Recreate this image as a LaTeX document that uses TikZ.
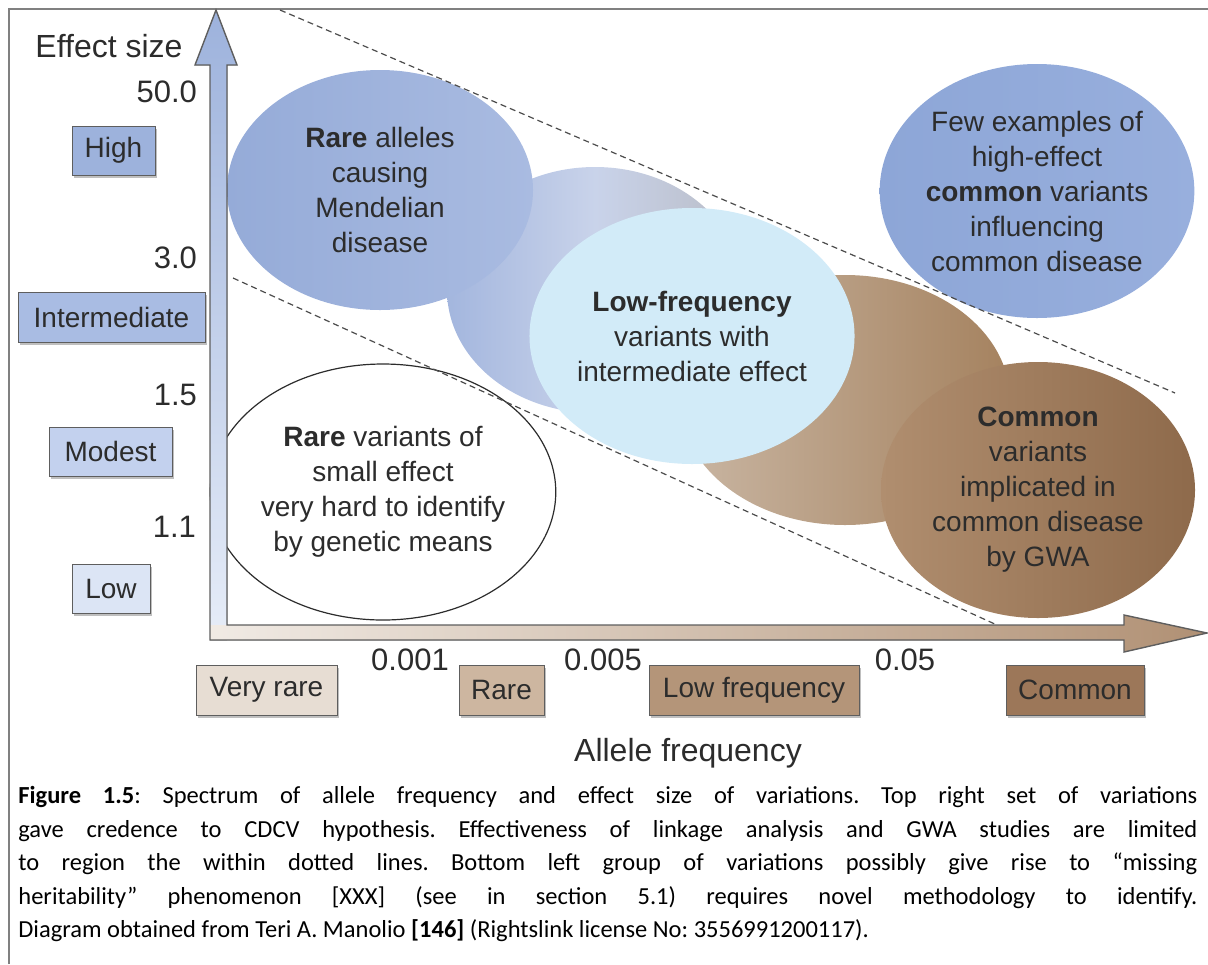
\documentclass[tikz,border=0pt]{standalone}
\usepackage{fontspec}
\setmainfont{Liberation Sans}
\newfontfamily\captionfamily{Carlito}
\usetikzlibrary{shapes.geometric,shadows}

\definecolor{textgray}{HTML}{2C2C2C}
\definecolor{framegray}{HTML}{808080}
\definecolor{edgegray}{HTML}{5E5E5E}
\definecolor{highblue}{HTML}{9DB2DC}
\definecolor{interblue}{HTML}{A9BCE3}
\definecolor{modestblue}{HTML}{C3D1EE}
\definecolor{lowblue}{HTML}{DCE5F5}
\definecolor{veryrarebrown}{HTML}{E7DDD3}
\definecolor{rarebrown}{HTML}{CDB6A0}
\definecolor{lowfreqbrown}{HTML}{B49579}
\definecolor{commonbrown}{HTML}{9C7759}
% blob colours
\definecolor{mendelleft}{HTML}{95ABD8}
\definecolor{mendelright}{HTML}{A9BBE1}
\definecolor{fadeleft}{HTML}{A3B6DE}
\definecolor{fademid}{HTML}{C9D3EA}
\definecolor{faderight}{HTML}{B9BCC6}
\definecolor{paleblue}{HTML}{D2EBF8}
\definecolor{tanleft}{HTML}{C9B6A3}
\definecolor{tanright}{HTML}{A5825F}
\definecolor{gwaleft}{HTML}{B08E6F}
\definecolor{gwaright}{HTML}{8E6A4B}
\definecolor{fewleft}{HTML}{8DA6D7}
\definecolor{fewright}{HTML}{98AFDD}

\newcommand\axisfont{\fontsize{16}{19}\selectfont}
\newcommand\tickfont{\fontsize{15.5}{18}\selectfont}
\newcommand\boxfont{\fontsize{14}{17}\selectfont}
\newcommand\bubblefont{\fontsize{14}{17.5}\selectfont}
\newcommand\capfont{\captionfamily\fontsize{12.25}{16.75}\selectfont\frenchspacing}

\tikzset{
  catbox/.style={draw=edgegray, line width=0.5pt, inner sep=0pt, text=textgray, font=\boxfont,
    drop shadow={opacity=0.5, shadow xshift=1.2pt, shadow yshift=-1.6pt}},
  bubble/.style={ellipse, inner sep=0pt, align=center, text=textgray, font=\bubblefont},
  ticklabel/.style={text=textgray, font=\tickfont},
  boundline/.style={draw=black!70, line width=0.6pt, densely dashed},
  axisline/.style={draw=edgegray, line width=0.7pt, line join=miter},
}

% label box: name, x, y, width, height, fill, text (sizes in pt, 1px = 0.5pt)
\newcommand\catbox[7]{
  \node[catbox, fill=#6, minimum width=#4, minimum height=#5] (#1) at (#2,#3) {#7};
}

\begin{document}
\begin{tikzpicture}[x=0.5pt, y=-0.5pt]
  \useasboundingbox (0,0) rectangle (1208,964);

  % frame
  \draw[framegray, line width=1pt] (9,964) -- (9,9) -- (1208,9);

  % blobs behind
  \node[bubble, minimum width=148pt, minimum height=123pt, shading=axis,
    left color=fadeleft, right color=faderight, middle color=fademid] (mendelfade) at (595,290) {};
  \node[bubble, minimum width=153pt, minimum height=120pt, shading=axis,
    left color=mendelleft, right color=mendelright] (mendel) at (380,190)
    {\textbf{Rare} alleles\\causing\\Mendelian\\disease};
  \node[bubble, minimum width=165pt, minimum height=125pt, shading=axis,
    left color=tanleft, right color=tanright] (commonfade) at (845,400) {};
  \node[bubble, minimum width=155pt, minimum height=128pt, fill=paleblue] (lowfreq) at (692,336)
    {\textbf{Low-frequency}\\variants with\\intermediate effect};
  \node[bubble, minimum width=157pt, minimum height=128pt, shading=axis,
    left color=gwaleft, right color=gwaright] (common) at (1038,490)
    {\textbf{Common}\\variants\\implicated in\\common disease\\by GWA};
  \node[bubble, minimum width=156pt, minimum height=127pt, shading=axis,
    left color=fewleft, right color=fewright] (fewhigh) at (1037,191)
    {Few examples of\\high-effect\\\textbf{common} variants\\influencing\\common disease};
  \node[bubble, minimum width=157pt, minimum height=128pt, fill=white, draw=textgray, line width=0.6pt] (rarevar) at (383,492)
    {\textbf{Rare} variants of\\small effect\\very hard to identify\\by genetic means};

  % dotted bounds
  \coordinate (upperA) at (280,10);
  \coordinate (upperB) at (1175,393);
  \coordinate (lowerA) at (233,278);
  \coordinate (lowerB) at (997,625);
  \draw[boundline] (upperA) -- (upperB);
  \draw[boundline] (lowerA) -- (lowerB);

  % axes
  \fill[shading=axis, bottom color=lowblue!70!white, top color=highblue]
    (210,640) -- (210,65) -- (195,65) -- (216,10) -- (237,65) -- (227,65) -- (227,640) -- cycle;
  \fill[shading=axis, left color=veryrarebrown!60!white, right color=lowfreqbrown!85!commonbrown]
    (210,625) -- (1124,625) -- (1124,615) -- (1207,633) -- (1124,652) -- (1124,640) -- (210,640) -- cycle;
  \draw[axisline] (210,640) -- (210,65) -- (195,65) -- (216,10) -- (237,65) -- (227,65) -- (227,625)
    -- (1124,625) -- (1124,615) -- (1207,633) -- (1124,652) -- (1124,640) -- cycle;

  \node[anchor=base, text=textgray, font=\axisfont] (ytitle) at (109,57) {Effect size};
  \node[anchor=base, text=textgray, font=\axisfont] (xtitle) at (688,761) {Allele frequency};

  % effect size ticks and classes
  \node[ticklabel, anchor=east] (t50) at (204,92) {50.0};
  \node[ticklabel, anchor=east] (t30) at (204,258) {3.0};
  \node[ticklabel, anchor=east] (t15) at (204,395) {1.5};
  \node[ticklabel, anchor=east] (t11) at (203,527) {1.1};
  \catbox{high}{113.5}{150.5}{41.5pt}{24.5pt}{highblue}{High}
  \catbox{inter}{111.5}{317}{93.5pt}{25pt}{interblue}{Intermediate}
  \catbox{modest}{110.5}{451.5}{61.5pt}{24.5pt}{modestblue}{Modest}
  \catbox{low}{111}{588.5}{39pt}{24.5pt}{lowblue}{Low}

  % frequency ticks and classes
  \node[ticklabel] (f001) at (410,660) {0.001};
  \node[ticklabel] (f005) at (603,660) {0.005};
  \node[ticklabel] (f05) at (905,660) {0.05};
  \catbox{veryrare}{266.5}{690}{70.5pt}{25pt}{veryrarebrown}{Very rare}
  \catbox{rare}{501.5}{690}{42.5pt}{25pt}{rarebrown}{Rare}
  \catbox{lowfreqbox}{754}{690}{105pt}{25pt}{lowfreqbrown}{Low frequency}
  \catbox{commonbox}{1075}{690}{69pt}{25pt}{commonbrown}{Common}

  % caption
  \node[anchor=north west, text width=589.5pt, align=justify, inner sep=0pt, font=\capfont] (caption) at (18,786)
    {\textbf{Figure 1.5}: Spectrum of allele frequency and effect size of variations. Top right set of variations\linebreak
     gave credence to CDCV hypothesis. Effectiveness of linkage analysis and GWA studies are limited\linebreak
     to region the within dotted lines. Bottom left group of variations possibly give rise to “missing\linebreak
     heritability” phenomenon [XXX] (see in section 5.1) requires novel methodology to identify.\linebreak
     Diagram obtained from Teri A. Manolio \textbf{[146]} (Rightslink license No: 3556991200117).};
\end{tikzpicture}
\end{document}
